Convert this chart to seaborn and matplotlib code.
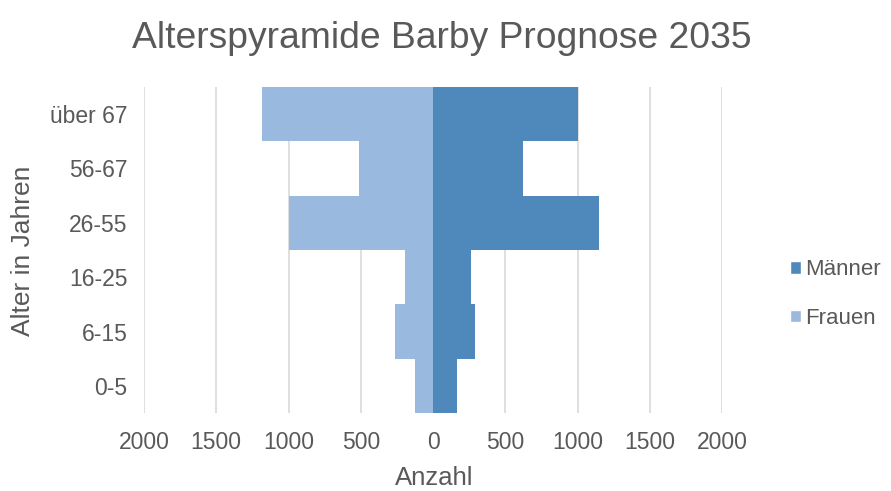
import matplotlib
matplotlib.use("Agg")
import matplotlib.pyplot as plt
import seaborn as sns
import pandas as pd
from matplotlib.patches import Patch
from matplotlib.ticker import FixedLocator, FuncFormatter

categories = ["über 67", "56-67", "26-55", "16-25", "6-15", "0-5"]
maenner = [1000, 621, 1152, 263, 289, 164]
frauen = [1180, 515, 1000, 196, 265, 127]
x_ticks = [-2000, -1500, -1000, -500, 0, 500, 1000, 1500, 2000]

c_m = "#4F89BC"
c_f = "#9AB9DF"
gray = "#595959"

sns.set_theme(style="white")
plt.rcParams['font.family'] = ['Liberation Sans', 'DejaVu Sans']

df_m = pd.DataFrame({"Alter": categories, "Anzahl": maenner})
df_f = pd.DataFrame({"Alter": categories, "Anzahl": [-v for v in frauen]})

W, H = 891, 491
fig = plt.figure(figsize=(W / 100, H / 100), dpi=100)
ax = fig.add_axes([144 / W, 1 - 413.3 / H, (722 - 144) / W, (413.3 - 86.7) / H])

sns.barplot(data=df_f, x="Anzahl", y="Alter", order=categories, orient="h",
            color=c_f, width=1.0, saturation=1, linewidth=0, ax=ax, zorder=2)
sns.barplot(data=df_m, x="Anzahl", y="Alter", order=categories, orient="h",
            color=c_m, width=1.0, saturation=1, linewidth=0, ax=ax, zorder=2)

ax.set_xlim(-2000, 2000)
ax.set_ylim(5.5, -0.5)
ax.xaxis.set_major_locator(FixedLocator(x_ticks))
ax.xaxis.set_major_formatter(FuncFormatter(lambda v, p: f"{abs(int(v))}"))
ax.grid(axis="x", color="#D9D9D9", linewidth=1.2, zorder=0)
ax.grid(axis="y", visible=False)
ax.set_axisbelow(True)
for s in ax.spines.values():
    s.set_visible(False)
ax.tick_params(axis="both", length=0, labelsize=16.5, labelcolor=gray)
ax.tick_params(axis="y", pad=12)
ax.tick_params(axis="x", pad=13)

ax.set_xlabel("")
ax.set_ylabel("")
fig.text(434 / W, 1 - 478 / H, "Anzahl", ha="center", va="center",
         fontsize=18.5, color=gray)
fig.text(23 / W, 1 - 251 / H, "Alter in Jahren", ha="center", va="center",
         rotation=90, fontsize=19, color=gray)

fig.text(442 / W, 1 - 38 / H, "Alterspyramide Barby Prognose 2035",
         ha="center", va="center", fontsize=26.8, color=gray)

handles = [Patch(facecolor=c_m, label="Männer"), Patch(facecolor=c_f, label="Frauen")]
leg = fig.legend(handles=handles, loc="center left", bbox_to_anchor=(790 / W, 1 - 294 / H),
                 frameon=False, fontsize=16, handlelength=0.5, handleheight=0.5,
                 handletextpad=0.2, labelspacing=1.25, borderpad=0, borderaxespad=0)
for t in leg.get_texts():
    t.set_color(gray)

fig.savefig("out.png", dpi=100)
